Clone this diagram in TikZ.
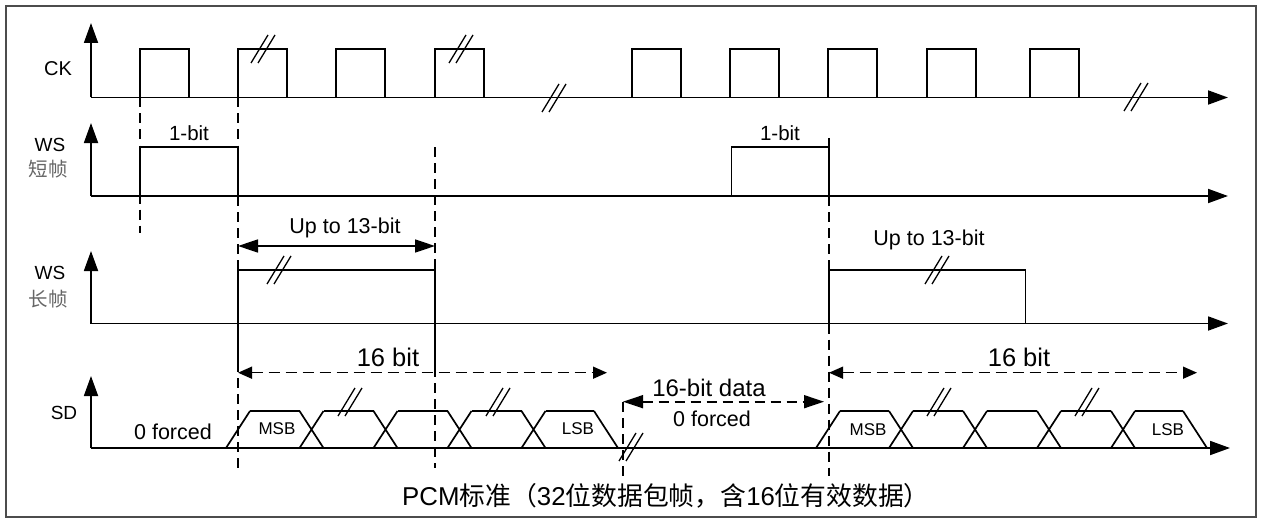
\documentclass[tikz,border=0pt]{standalone}
\usepackage{fontspec}
\setmainfont{Liberation Sans}
\newfontfamily\cjk{Noto Sans CJK SC}
\usetikzlibrary{arrows.meta}
\begin{document}
\begin{tikzpicture}[x=1pt,y=-1pt,
  sig/.style={line width=1.7pt},
  axis/.style={line width=1.8pt,-{Triangle[length=20pt,width=14pt]}},
  guide/.style={line width=1.4pt,dash pattern=on 10pt off 6pt},
  dimarrow/.style={line width=1.6pt,{Triangle[length=20pt,width=13pt]}-{Triangle[length=20pt,width=13pt]}},
  dimdash/.style={line width=1.5pt,dash pattern=on 11pt off 6pt,{Triangle[length=14pt,width=12pt]}-{Triangle[length=14pt,width=12pt]}},
  txt/.style={inner sep=0pt,font=\fontsize{#1}{#1}\selectfont},
  sub/.style={inner sep=0pt,text=black!60,font=\cjk\fontsize{19.5}{19.5}\selectfont},
  brk/.pic={\draw[line width=1.3pt] (-11,14) -- (6,-14); \draw[line width=1.3pt] (-4,14) -- (13,-14);}
]
\useasboundingbox (0,0) rectangle (1263,524);
\draw[line width=1.6pt,black!70] (6,6) rectangle (1256,517);

% ---------- labels ----------
\node[txt=20] (lck) at (58,69) {CK};
\node[txt=19] (lws1) at (50,145) {WS};
\node[sub] (lws1c) at (48,169) {短帧};
\node[txt=19] (lws2) at (50,273) {WS};
\node[sub] (lws2c) at (48,299) {长帧};
\node[txt=19] (lsd) at (64,413) {SD};

% ---------- axes ----------
\coordinate (ck0) at (91,97.5);   \coordinate (ckT) at (91,23);  \coordinate (ckR) at (1228,97.5);
\coordinate (wa0) at (91,196);    \coordinate (waT) at (91,123); \coordinate (waR) at (1228,196);
\coordinate (wb0) at (91,323.5);  \coordinate (wbT) at (91,251); \coordinate (wbR) at (1228,323.5);
\coordinate (sd0) at (91,448);    \coordinate (sdT) at (91,376); \coordinate (sdR) at (1230,448);
\foreach \o/\t/\r in {ck0/ckT/ckR, wa0/waT/waR, wb0/wbT/wbR, sd0/sdT/sdR}{
  \draw[axis] (\o) -- (\t);
  \draw[axis] (\o) -- (\r);
}

% ---------- CK pulses ----------
\foreach \p in {140,238,336,435,632,730,828,927,1030}{
  \draw[sig] (\p,97.5) -- (\p,49) -- (\p+49,49) -- (\p+49,97.5);
}

% ---------- WS short frame ----------
\draw[sig] (140,196) -- (140,147) -- (238,147) -- (238,196);
\draw[sig] (731.5,196) -- (731.5,147) -- (829,147);
\draw[sig] (829,138) -- (829,196);
\node[txt=20.5] (onebitA) at (189,133) {1-bit};
\node[txt=20.5] (onebitB) at (780,133) {1-bit};

% ---------- WS long frame ----------
\draw[sig] (238,323.5) -- (238,270) -- (435,270) -- (435,323.5);
\draw[sig] (829,323.5) -- (829,270) -- (1025.5,270) -- (1025.5,323.5);
\draw[sig] (238,323.5) -- (238,372);
\draw[sig] (435,323.5) -- (435,367);

% ---------- guide lines ----------
\draw[guide] (140,97.5) -- (140,233);
\draw[guide] (238,97.5) -- (238,147);
\draw[guide] (238,196) -- (238,270);
\draw[guide] (238,378) -- (238,468);
\draw[guide] (435,147) -- (435,270);
\draw[guide] (435,367) -- (435,468);
\draw[guide] (829,196) -- (829,270);
\draw[guide] (829,323.5) -- (829,476);
\draw[guide] (623,402) -- (623,476);

% ---------- dimension arrows ----------
\coordinate (u1) at (238,246); \coordinate (u2) at (435,246);
\draw[dimarrow] (u1) -- (u2);
\node[txt=21.5] (up13A) at (345,228) {Up to 13-bit};
\node[txt=21.5] (up13B) at (929,240) {Up to 13-bit};

\coordinate (s1) at (238,372.7); \coordinate (s2) at (607,372.7);
\draw[dimdash] (s1) -- (s2);
\node[txt=25.5] (sixA) at (388,357) {16 bit};
\coordinate (s3) at (829,372.7); \coordinate (s4) at (1197,372.7);
\draw[dimdash] (s3) -- (s4);
\node[txt=25.5] (sixB) at (1019,357) {16 bit};

\coordinate (d1) at (623,401.7); \coordinate (d2) at (824,401.7);
\draw[dimarrow,dash pattern=on 10pt off 6pt] (d1) -- (d2);
\node[txt=24] (data16) at (709,388) {16-bit data};
\node[txt=21.5] (zeroB) at (712,419) {0 forced};
\node[txt=21.5] (zeroA) at (173,432) {0 forced};

% ---------- SD data cells, first word ----------
\draw[sig] (226,448) -- (250,411);
\draw[sig] (594,411) -- (618,448);
\foreach \a/\b in {238/311.5,311.5/385.5,385.5/459.5,459.5/533.5,533.5/606}{
  \draw[sig] (\a+12,411) -- (\b-12,411);
}
\foreach \c in {311.5,385.5,459.5,533.5}{
  \draw[sig] (\c-12,411) -- (\c+12,448) (\c-12,448) -- (\c+12,411);
}
\node[txt=17] (msbA) at (277,429) {MSB};
\node[txt=17] (lsbA) at (578,429) {LSB};

% ---------- SD data cells, second word ----------
\draw[sig] (816,448) -- (840,411);
\draw[sig] (1183,411) -- (1207,448);
\foreach \a/\b in {828/901,901/975,975/1049,1049/1123,1123/1195}{
  \draw[sig] (\a+12,411) -- (\b-12,411);
}
\foreach \c in {901,975,1049,1123}{
  \draw[sig] (\c-12,411) -- (\c+12,448) (\c-12,448) -- (\c+12,411);
}
\node[txt=17] (msbB) at (868,430) {MSB};
\node[txt=17] (lsbB) at (1168,430) {LSB};

% ---------- break marks ----------
\foreach \bx/\by in {262/49,460/49,553/98,1135/97,278/270,936/270,349/402,497/402,630/447,938/402,1086/402}{
  \pic at (\bx,\by) {brk};
}

% ---------- caption ----------
\node[txt=25.8] (cap) at (666,496) {PCM{\cjk 标准（}32{\cjk 位数据包帧，含}16{\cjk 位有效数据）}};
\end{tikzpicture}
\end{document}
